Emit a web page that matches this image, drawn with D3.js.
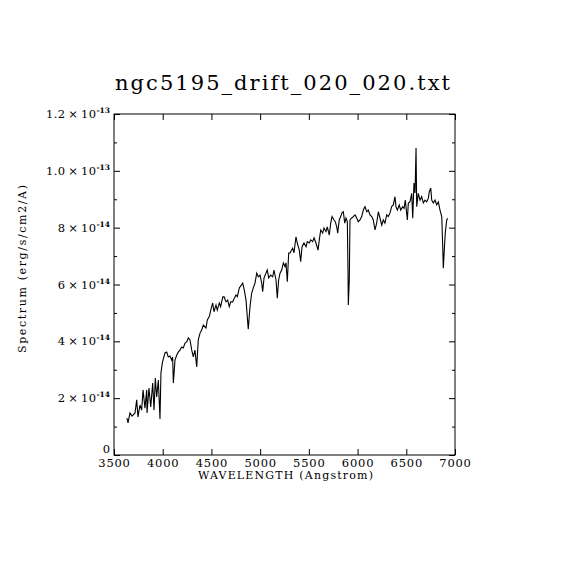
<!DOCTYPE html>
<html><head><meta charset="utf-8">
<script src="https://cdn.jsdelivr.net/npm/d3@7"></script>
<style>body{margin:0;background:#fff}svg{display:block}</style>
</head><body>
<script>
const title = "ngc5195_drift_020_020.txt";
const xLabel = "WAVELENGTH (Angstrom)";
const yLabel = "Spectrum (erg/s/cm2/A)";
const xTicks = [3500,4000,4500,5000,5500,6000,6500,7000];
const yTicks = [0,2,4,6,8,10,12];            // units of 1e-14
const yTickMant = ["0","2","4","6","8","1.0","1.2"];
const yTickExp  = ["","-14","-14","-14","-14","-13","-13"];
const yMinor = [1,3,5,7,9,11];
const wavelength = [3633,3644,3664,3685,3716,3733,3746,3767,3784,3798,3818,3836,3839,3859,3877,3897,3911,3924,3938,3955,3972,3982,3996,4023,4041,4057,4075,4092,4102,4109,4126,4144,4160,4177,4195,4211,4229,4246,4263,4280,4298,4314,4331,4349,4365,4383,4400,4417,4444,4458,4478,4493,4513,4526,4547,4560,4581,4595,4616,4629,4650,4667,4683,4698,4718,4735,4752,4766,4786,4807,4821,4837,4855,4868,4878,4896,4913,4930,4947,4965,4981,4999,5016,5026,5040,5060,5073,5088,5108,5129,5142,5163,5176,5190,5204,5221,5238,5255,5265,5279,5293,5306,5334,5347,5368,5381,5402,5416,5430,5450,5471,5484,5505,5519,5539,5553,5573,5594,5607,5622,5642,5655,5676,5689,5710,5724,5738,5758,5771,5786,5796,5812,5827,5840,5854,5868,5881,5895,5902,5905,5915,5922,5940,5956,5974,5991,6007,6025,6042,6059,6076,6094,6110,6128,6145,6161,6179,6196,6213,6230,6248,6264,6281,6299,6315,6333,6350,6367,6384,6394,6408,6428,6443,6463,6477,6490,6511,6521,6538,6556,6566,6579,6590,6600,6607,6623,6641,6658,6675,6692,6710,6726,6736,6751,6761,6777,6795,6812,6829,6846,6864,6874,6880,6890,6900,6915,6925];
const flux = [1.30,1.13,1.48,1.37,1.48,1.94,1.34,1.76,1.58,2.29,1.65,2.29,1.48,2.36,1.69,2.53,1.58,2.71,2.04,2.64,1.27,2.89,3.24,3.59,3.62,3.45,3.48,3.34,3.45,2.53,3.34,3.52,3.62,3.69,3.80,3.77,3.94,3.98,4.12,4.05,3.69,3.45,3.69,3.10,4.05,4.29,4.40,4.57,4.47,4.75,4.87,5.10,5.35,5.04,5.28,5.10,5.35,5.22,5.56,5.57,5.39,5.45,5.22,5.39,5.39,5.52,5.63,5.57,5.88,5.98,6.05,5.81,5.45,4.87,4.43,5.22,5.70,5.88,6.05,6.40,6.27,6.33,6.05,5.75,6.23,6.40,6.51,6.23,6.33,6.27,6.51,6.16,5.52,6.16,6.40,6.51,6.76,6.63,6.76,6.10,7.11,7.11,7.28,7.11,7.68,7.46,7.21,6.80,7.33,7.46,7.33,7.51,7.46,7.57,7.51,7.64,7.46,7.21,7.57,7.92,7.81,7.99,7.86,8.03,7.74,8.16,8.39,8.27,8.21,8.03,7.81,8.27,8.39,8.52,8.56,8.16,8.34,8.21,6.40,5.28,6.16,8.27,8.34,8.39,8.45,8.34,8.21,8.27,8.39,8.62,8.74,8.56,8.62,8.45,8.39,8.27,7.92,8.16,8.56,8.34,8.09,8.27,8.16,8.45,8.39,8.52,8.74,8.80,9.09,8.74,8.62,8.80,8.62,8.74,8.68,8.97,8.27,8.87,8.91,9.21,8.33,9.57,9.22,10.80,8.74,9.21,8.97,9.09,8.87,8.97,8.91,9.03,9.27,9.39,8.97,8.87,8.97,8.80,8.91,8.62,8.39,7.33,6.57,7.21,7.81,8.27,8.33];

const W = 570, H = 570;
const L = 114, R = 455, T = 114, B = 455;
const font = "DejaVu Serif";

const svg = d3.select("body").append("svg").attr("width", W).attr("height", H);
const x = d3.scaleLinear().domain([3500,7000]).range([L,R]);
const y = d3.scaleLinear().domain([0,12]).range([B,T]);

// frame
svg.append("rect").attr("x",L).attr("y",T).attr("width",R-L).attr("height",B-T)
  .attr("fill","none").attr("stroke","#000").attr("stroke-width",1);

// axes (inward ticks)
const gx = svg.append("g").attr("transform",`translate(0,${B})`)
  .call(d3.axisBottom(x).tickValues(xTicks).tickSize(-6).tickPadding(4).tickFormat(d3.format("d")));
svg.append("g").attr("transform",`translate(0,${T})`)
  .call(d3.axisTop(x).tickValues(xTicks).tickSize(-6).tickFormat(""));
svg.append("g").attr("transform",`translate(${L},0)`)
  .call(d3.axisLeft(y).tickValues(yTicks).tickSize(-6).tickFormat(""));
svg.append("g").attr("transform",`translate(${R},0)`)
  .call(d3.axisRight(y).tickValues(yTicks).tickSize(-6).tickFormat(""));
svg.append("g").attr("transform",`translate(${L},0)`)
  .call(d3.axisLeft(y).tickValues(yMinor).tickSize(-3).tickFormat(""));
svg.append("g").attr("transform",`translate(${R},0)`)
  .call(d3.axisRight(y).tickValues(yMinor).tickSize(-3).tickFormat(""));
svg.selectAll(".domain").remove();
svg.selectAll(".tick line").attr("stroke","#000").attr("stroke-width",1);

gx.selectAll("text").attr("font-family",font).attr("font-size",11.5)
  .attr("letter-spacing",0.8).attr("fill","#000");

// y tick labels with superscript exponents
yTicks.forEach((v,i) => {
  const t = svg.append("text").attr("x", L-4).attr("y", y(v) + (v===0 ? -2 : 4))
    .attr("text-anchor","end").attr("font-family",font).attr("font-size",11.5)
    .attr("fill","#000");
  if (yTickExp[i]) {
    t.append("tspan").attr("letter-spacing",0.4).text(yTickMant[i] + "\u2009\u00d7\u200910");
    t.append("tspan").attr("font-size",7.5).attr("dy",-5).attr("font-weight","bold").text(yTickExp[i]);
  } else {
    t.text(yTickMant[i]);
  }
});

// spectrum
const pts = wavelength.map((w,i) => [w, flux[i]]);
svg.append("path").datum(pts)
  .attr("fill","none").attr("stroke","#000").attr("stroke-width",1.1)
  .attr("d", d3.line().x(d => x(d[0])).y(d => y(d[1])));

// titles
svg.append("text").attr("x",282.5).attr("y",90).attr("text-anchor","middle")
  .attr("font-family",font).attr("font-size",21).attr("textLength",335)
  .attr("lengthAdjust","spacing").attr("fill","#000").text(title);
svg.append("text").attr("x",285.5).attr("y",479).attr("text-anchor","middle")
  .attr("font-family",font).attr("font-size",11).attr("textLength",175)
  .attr("lengthAdjust","spacing").attr("fill","#000").text(xLabel);
svg.append("text").attr("transform","translate(26,269) rotate(-90)").attr("text-anchor","middle")
  .attr("font-family",font).attr("font-size",11).attr("textLength",168)
  .attr("lengthAdjust","spacing").attr("fill","#000").text(yLabel);
</script>
</body></html>
